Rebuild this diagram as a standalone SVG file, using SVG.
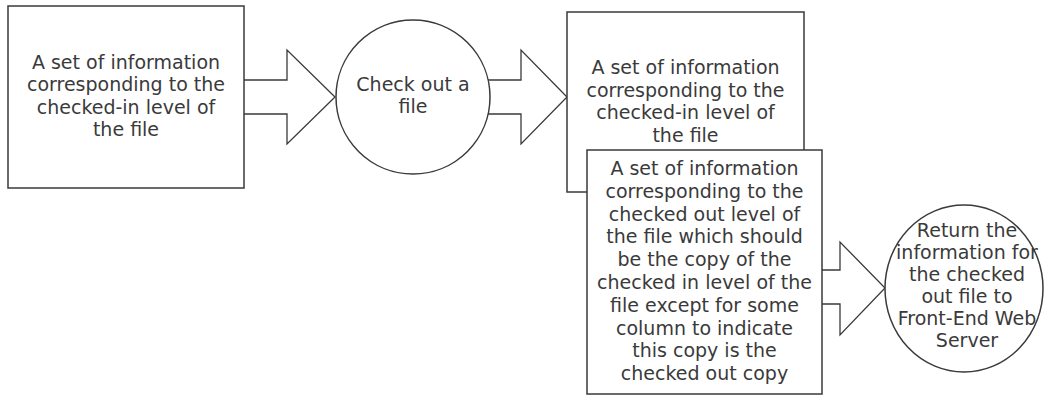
<svg xmlns="http://www.w3.org/2000/svg" width="1045" height="395" viewBox="0 0 1045 395">
  <style>
    .shape { fill: #ffffff; stroke: #3a3a3a; stroke-width: 1.5; }
    .arrow { fill: #ffffff; stroke: #3a3a3a; stroke-width: 1.3; stroke-linejoin: miter; }
    .label { font-family: "DejaVu Sans", Verdana, sans-serif; font-size: 19px; fill: #3a3a3a; text-anchor: middle; }
  </style>
  <rect width="1045" height="395" fill="#ffffff"/>
  <g id="connectors">
    <polyline class="arrow" points="244,80 287,80 287,50 335,97 287,144 287,114 244,114"/>
    <polyline class="arrow" points="488,80 521,80 521,50 567,97 521,144 521,114 488,114"/>
    <polyline class="arrow" points="822,270 840,270 840,242 885,288 840,335 840,304 822,304"/>
  </g>
  <g id="node-checked-in-1">
    <rect class="shape" x="8" y="6" width="236" height="182"/>
    <text class="label" x="126" y="69">A set of information</text>
    <text class="label" x="126" y="91">corresponding to the</text>
    <text class="label" x="126" y="113.5">checked-in level of</text>
    <text class="label" x="126" y="135.5">the file</text>
  </g>
  <g id="node-check-out">
    <circle class="shape" cx="413" cy="97" r="77"/>
    <text class="label" x="413" y="91">Check out a</text>
    <text class="label" x="413" y="113">file</text>
  </g>
  <g id="node-checked-in-2">
    <rect class="shape" x="567" y="12" width="237" height="180"/>
    <text class="label" x="685.5" y="74">A set of information</text>
    <text class="label" x="685.5" y="96.5">corresponding to the</text>
    <text class="label" x="685.5" y="119">checked-in level of</text>
    <text class="label" x="685.5" y="141.5">the file</text>
  </g>
  <g id="node-checked-out">
    <rect class="shape" x="587" y="150" width="235" height="244"/>
    <text class="label" x="704.5" y="175">A set of information</text>
    <text class="label" x="704.5" y="197.8">corresponding to the</text>
    <text class="label" x="704.5" y="220.6">checked out level of</text>
    <text class="label" x="704.5" y="243.4">the file which should</text>
    <text class="label" x="704.5" y="266.2">be the copy of the</text>
    <text class="label" x="704.5" y="289">checked in level of the</text>
    <text class="label" x="704.5" y="311.8">file except for some</text>
    <text class="label" x="704.5" y="334.6">column to indicate</text>
    <text class="label" x="704.5" y="357.4">this copy is the</text>
    <text class="label" x="704.5" y="380.2">checked out copy</text>
  </g>
  <g id="node-return">
    <ellipse class="shape" cx="964" cy="288.5" rx="79" ry="83.5"/>
    <text class="label" x="967" y="237">Return the</text>
    <text class="label" x="967" y="259">information for</text>
    <text class="label" x="967" y="281">the checked</text>
    <text class="label" x="967" y="303">out file to</text>
    <text class="label" x="967" y="325">Front-End Web</text>
    <text class="label" x="967" y="347">Server</text>
  </g>
</svg>
